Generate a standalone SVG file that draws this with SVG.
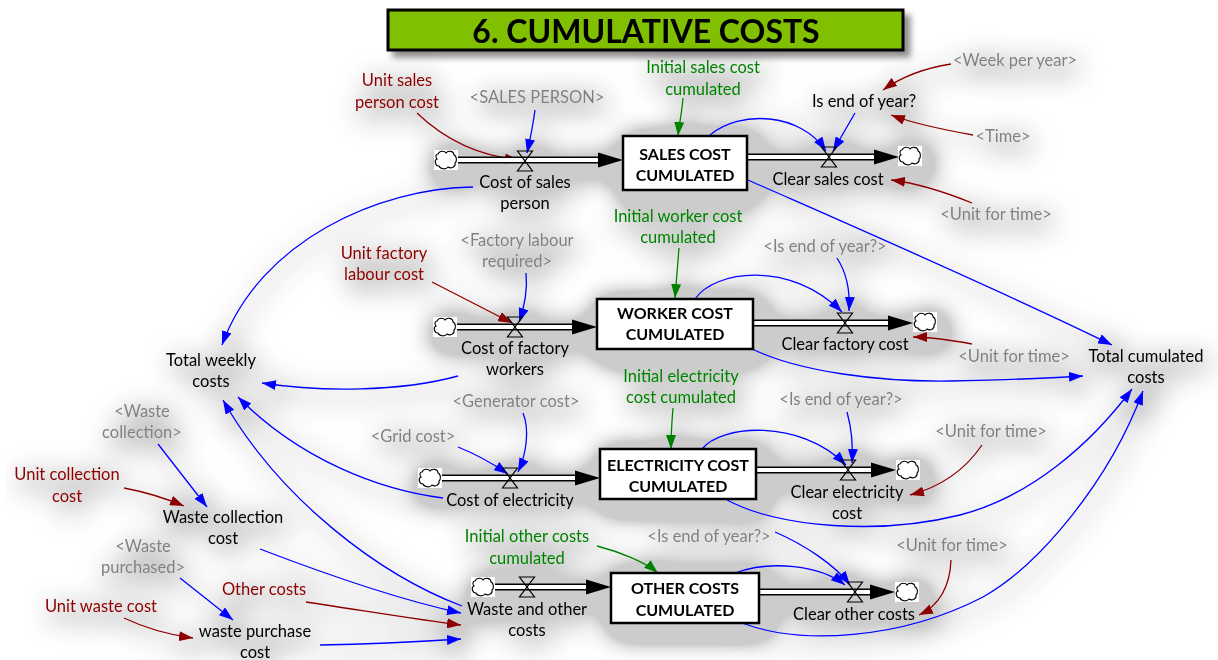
<svg xmlns="http://www.w3.org/2000/svg" xmlns:xlink="http://www.w3.org/1999/xlink" width="1218" height="660" viewBox="0 0 1218 660">
  <style>
    text { font-family: Lato, "Open Sans", "Liberation Sans", sans-serif; font-size: 16.5px; text-anchor: middle; }
    .k { fill: #000; }
    .gy { fill: #808080; }
    .dr { fill: #8B0000; }
    .gn { fill: #008000; }
    .stk { font-weight: bold; font-size: 16px; fill: #000; }
    .box { fill: #fff; stroke: #000; stroke-width: 2.5; }
    .pipeO { stroke: #000; stroke-width: 7; fill: none; }
    .pipeI { stroke: #fff; stroke-width: 4; fill: none; }
    .cb { stroke: #0000FF; stroke-width: 1.3; fill: none; marker-end: url(#ab); }
    .cr { stroke: #8B0000; stroke-width: 1.3; fill: none; marker-end: url(#ar); }
    .cg { stroke: #008000; stroke-width: 1.3; fill: none; marker-end: url(#ag); }
  </style>
  <defs>
    <marker id="ab" viewBox="0 0 14 10" refX="14" refY="5" markerWidth="14" markerHeight="10" markerUnits="userSpaceOnUse" orient="auto">
      <path d="M0,0 L14,5 L0,10 Z" fill="#0000FF"/>
    </marker>
    <marker id="ar" viewBox="0 0 14 10" refX="14" refY="5" markerWidth="14" markerHeight="10" markerUnits="userSpaceOnUse" orient="auto">
      <path d="M0,0 L14,5 L0,10 Z" fill="#8B0000"/>
    </marker>
    <marker id="ag" viewBox="0 0 14 10" refX="14" refY="5" markerWidth="14" markerHeight="10" markerUnits="userSpaceOnUse" orient="auto">
      <path d="M0,0 L14,5 L0,10 Z" fill="#008000"/>
    </marker>
    <g id="cloud">
      <rect x="-12" y="-10" width="24" height="20" fill="#fff"/>
      <path d="M-8,-6 C-6,-10 -1,-9 0,-7 C2,-10 8,-9 8,-5 C11,-4 11,2 9,3 C10,7 5,9 2,7 C0,10 -6,9 -7,6 C-11,6 -12,0 -9,-1 C-11,-3 -10,-6 -8,-6 Z" fill="#fff" stroke="#000" stroke-width="1.1"/>
    </g>
    <path id="valve" d="M-7.5,-10 L7.5,-10 L-7.5,10 L7.5,10 Z" fill="none" stroke="#000" stroke-width="1.2"/>
    <!-- soft grey drop haze behind the whole model -->
    <filter id="haze" filterUnits="userSpaceOnUse" x="0" y="0" width="1218" height="660">
      <feGaussianBlur in="SourceAlpha" stdDeviation="14" result="b"/>
      <feOffset in="b" dx="5" dy="7" result="o"/>
      <feComponentTransfer in="o" result="a">
        <feFuncA type="linear" slope="6"/>
      </feComponentTransfer>
      <feFlood flood-color="#000" flood-opacity="0.2"/>
      <feComposite in2="a" operator="in" result="s"/>
      <feMerge><feMergeNode in="s"/><feMergeNode in="SourceGraphic"/></feMerge>
    </filter>
    <filter id="titleShadow" x="-5%" y="-20%" width="115%" height="160%">
      <feGaussianBlur in="SourceAlpha" stdDeviation="3" result="b"/>
      <feOffset in="b" dx="6" dy="6" result="o"/>
      <feFlood flood-color="#000" flood-opacity="0.45"/>
      <feComposite in2="o" operator="in" result="s"/>
      <feMerge><feMergeNode in="s"/><feMergeNode in="SourceGraphic"/></feMerge>
    </filter>
  </defs>

  <rect width="1218" height="660" fill="#fff"/>

  <!-- heading -->
  <g id="title" filter="url(#titleShadow)">
    <rect x="388" y="10" width="515" height="40" fill="#80C000" stroke="#000" stroke-width="3"/>
    <text x="646" y="43" style="font-size:32px;font-weight:bold" class="k">6. CUMULATIVE COSTS</text>
  </g>

  <g id="diagram" filter="url(#haze)">
    <!-- information links -->
    <g id="connectors">
      <!-- sales row -->
      <path class="cr" d="M417,113 C445,140 480,156 519,160"/>
      <path class="cb" d="M535,110 C533,125 530,140 527,153"/>
      <path class="cg" d="M683,98 C682,112 679,125 678,136"/>
      <path class="cb" d="M710,135 C740,110 800,112 826,151"/>
      <path class="cb" d="M855,113 L833,151"/>
      <path class="cr" d="M951,64 C925,68 900,78 883,90"/>
      <path class="cr" d="M973,135 C945,130 915,124 891,115"/>
      <path class="cr" d="M972,203 C945,192 915,183 891,180"/>
      <path class="cb" d="M748,180 C850,225 1000,290 1112,345"/>
      <path class="cb" d="M473,187 C380,188 260,240 222,345"/>
      <!-- worker row -->
      <path class="cr" d="M432,282 L512,323"/>
      <path class="cb" d="M526,273 C528,293 524,308 519,322"/>
      <path class="cg" d="M679,248 L675,298"/>
      <path class="cb" d="M695,299 C715,270 790,260 842,312"/>
      <path class="cb" d="M837,258 C848,275 850,295 849,311"/>
      <path class="cr" d="M972,344 C950,340 930,337 913,337"/>
      <path class="cb" d="M752,349 C800,372 880,382 950,381 C1000,380 1050,378 1083,376"/>
      <path class="cb" d="M458,376 C400,392 320,392 262,383"/>
      <!-- electricity row -->
      <path class="cb" d="M523,413 C530,430 526,455 518,472"/>
      <path class="cb" d="M458,447 C478,455 495,465 508,474"/>
      <path class="cg" d="M673,408 C672,420 671,435 671,449"/>
      <path class="cb" d="M702,449 C720,425 800,418 846,465"/>
      <path class="cb" d="M847,412 C852,430 853,448 852,463"/>
      <path class="cr" d="M982,445 C965,470 940,487 910,495"/>
      <path class="cb" d="M727,500 C780,528 880,535 960,515 C1030,497 1090,445 1132,389"/>
      <path class="cb" d="M443,498 C380,490 300,460 238,397"/>
      <!-- other costs row -->
      <path class="cg" d="M597,546 C620,552 645,562 658,573"/>
      <path class="cb" d="M775,532 C805,545 835,565 850,585"/>
      <path class="cb" d="M735,573 C770,560 820,565 845,585"/>
      <path class="cr" d="M951,560 C950,585 940,605 919,615"/>
      <path class="cb" d="M742,623 C800,645 900,640 983,597 C1040,565 1110,480 1143,391"/>
      <path class="cb" d="M462,606 C380,575 280,500 223,400"/>
      <!-- waste inputs -->
      <path class="cb" d="M158,444 L207,507"/>
      <path class="cr" d="M124,488 C145,492 165,498 184,506"/>
      <path class="cb" d="M180,578 L233,620"/>
      <path class="cr" d="M124,618 C145,628 170,635 193,638"/>
      <path class="cb" d="M260,549 C320,572 400,600 461,613"/>
      <path class="cr" d="M306,602 C360,610 420,620 461,625"/>
      <path class="cb" d="M320,645 C380,644 430,641 461,639"/>
    </g>

    <!-- flow pipes -->
    <g id="flow-cost-of-sales-person">
      <path class="pipeO" d="M456,160 H600"/>
      <path class="pipeI" d="M456,160 H601"/>
      <polygon points="598,152.5 623,160 598,167.5" fill="#000"/>
      <use xlink:href="#cloud" x="446" y="160"/>
      <use xlink:href="#valve" x="525" y="161"/>
      <text class="k" x="525" y="188">Cost of sales<tspan x="525" dy="21">person</tspan></text>
    </g>
    <g id="flow-clear-sales-cost">
      <path class="pipeO" d="M747,157 H876"/>
      <path class="pipeI" d="M747,157 H877"/>
      <polygon points="874,149.5 899,157 874,164.5" fill="#000"/>
      <use xlink:href="#cloud" x="910" y="156"/>
      <use xlink:href="#valve" x="829" y="157"/>
      <text class="k" x="828" y="185">Clear sales cost</text>
    </g>
    <g id="flow-cost-of-factory-workers">
      <path class="pipeO" d="M456,327 H574"/>
      <path class="pipeI" d="M456,327 H575"/>
      <polygon points="572,319.5 597,327 572,334.5" fill="#000"/>
      <use xlink:href="#cloud" x="445" y="327"/>
      <use xlink:href="#valve" x="515" y="327"/>
      <text class="k" x="515" y="354">Cost of factory<tspan x="515" dy="21">workers</tspan></text>
    </g>
    <g id="flow-clear-factory-cost">
      <path class="pipeO" d="M753,323 H890"/>
      <path class="pipeI" d="M753,323 H891"/>
      <polygon points="888,315.5 913,323 888,330.5" fill="#000"/>
      <use xlink:href="#cloud" x="925" y="322"/>
      <use xlink:href="#valve" x="845" y="323"/>
      <text class="k" x="845" y="350">Clear factory cost</text>
    </g>
    <g id="flow-cost-of-electricity">
      <path class="pipeO" d="M442,478 H577"/>
      <path class="pipeI" d="M442,478 H578"/>
      <polygon points="575,470.5 600,478 575,485.5" fill="#000"/>
      <use xlink:href="#cloud" x="430" y="478"/>
      <use xlink:href="#valve" x="510" y="478"/>
      <text class="k" x="510" y="506">Cost of electricity</text>
    </g>
    <g id="flow-clear-electricity-cost">
      <path class="pipeO" d="M756,470 H873"/>
      <path class="pipeI" d="M756,470 H874"/>
      <polygon points="871,462.5 896,470 871,477.5" fill="#000"/>
      <use xlink:href="#cloud" x="908" y="470"/>
      <use xlink:href="#valve" x="848" y="470"/>
      <text class="k" x="847" y="498">Clear electricity<tspan x="847" dy="21">cost</tspan></text>
    </g>
    <g id="flow-waste-and-other-costs">
      <path class="pipeO" d="M494,587 H588"/>
      <path class="pipeI" d="M494,587 H589"/>
      <polygon points="586,579.5 611,587 586,594.5" fill="#000"/>
      <use xlink:href="#cloud" x="483" y="587"/>
      <use xlink:href="#valve" x="527" y="587"/>
      <text class="k" x="527" y="615">Waste and other<tspan x="527" dy="21">costs</tspan></text>
    </g>
    <g id="flow-clear-other-costs">
      <path class="pipeO" d="M759,592 H872"/>
      <path class="pipeI" d="M759,592 H873"/>
      <polygon points="870,584.5 895,592 870,599.5" fill="#000"/>
      <use xlink:href="#cloud" x="907" y="592"/>
      <use xlink:href="#valve" x="855" y="592"/>
      <text class="k" x="854" y="620">Clear other costs</text>
    </g>

    <!-- stocks -->
    <g id="stock-sales">
      <rect class="box" x="623" y="136" width="124" height="54"/>
      <text class="stk" x="685" y="160">SALES COST<tspan x="685" dy="21">CUMULATED</tspan></text>
    </g>
    <g id="stock-worker">
      <rect class="box" x="597" y="299" width="156" height="50"/>
      <text class="stk" x="675" y="319">WORKER COST<tspan x="675" dy="21">CUMULATED</tspan></text>
    </g>
    <g id="stock-electricity">
      <rect class="box" x="600" y="449" width="156" height="50"/>
      <text class="stk" x="678" y="471">ELECTRICITY COST<tspan x="678" dy="21">CUMULATED</tspan></text>
    </g>
    <g id="stock-other">
      <rect class="box" x="611" y="573" width="148" height="50"/>
      <text class="stk" x="685" y="594">OTHER COSTS<tspan x="685" dy="22">CUMULATED</tspan></text>
    </g>

    <!-- auxiliaries and constants -->
    <g id="unit-sales-person-cost"><text class="dr" x="397" y="86">Unit sales<tspan x="397" dy="22">person cost</tspan></text></g>
    <g id="sales-person"><text class="gy" x="537" y="103">&lt;SALES PERSON&gt;</text></g>
    <g id="initial-sales-cost"><text class="gn" x="703" y="73">Initial sales cost<tspan x="703" dy="22">cumulated</tspan></text></g>
    <g id="is-end-of-year"><text class="k" x="864" y="107">Is end of year?</text></g>
    <g id="week-per-year"><text class="gy" x="1015" y="66">&lt;Week per year&gt;</text></g>
    <g id="time"><text class="gy" x="1003" y="142">&lt;Time&gt;</text></g>
    <g id="unit-for-time-1"><text class="gy" x="996" y="220">&lt;Unit for time&gt;</text></g>

    <g id="unit-factory-labour-cost"><text class="dr" x="384" y="259">Unit factory<tspan x="384" dy="21">labour cost</tspan></text></g>
    <g id="factory-labour-required"><text class="gy" x="517" y="246">&lt;Factory labour<tspan x="517" dy="21">required&gt;</tspan></text></g>
    <g id="initial-worker-cost"><text class="gn" x="678" y="222">Initial worker cost<tspan x="678" dy="21">cumulated</tspan></text></g>
    <g id="is-end-of-year-2"><text class="gy" x="825" y="252">&lt;Is end of year?&gt;</text></g>
    <g id="unit-for-time-2"><text class="gy" x="1014" y="362">&lt;Unit for time&gt;</text></g>

    <g id="total-weekly-costs"><text class="k" x="211" y="366">Total weekly<tspan x="211" dy="21">costs</tspan></text></g>
    <g id="total-cumulated-costs"><text class="k" x="1146" y="362">Total cumulated<tspan x="1146" dy="21">costs</tspan></text></g>

    <g id="initial-electricity-cost"><text class="gn" x="681" y="382">Initial electricity<tspan x="681" dy="21">cost cumulated</tspan></text></g>
    <g id="generator-cost"><text class="gy" x="516" y="407">&lt;Generator cost&gt;</text></g>
    <g id="grid-cost"><text class="gy" x="413" y="442">&lt;Grid cost&gt;</text></g>
    <g id="is-end-of-year-3"><text class="gy" x="841" y="405">&lt;Is end of year?&gt;</text></g>
    <g id="unit-for-time-3"><text class="gy" x="991" y="437">&lt;Unit for time&gt;</text></g>

    <g id="initial-other-costs"><text class="gn" x="527" y="542">Initial other costs<tspan x="527" dy="22">cumulated</tspan></text></g>
    <g id="is-end-of-year-4"><text class="gy" x="709" y="542">&lt;Is end of year?&gt;</text></g>
    <g id="unit-for-time-4"><text class="gy" x="952" y="551">&lt;Unit for time&gt;</text></g>

    <g id="waste-collection"><text class="gy" x="142" y="417">&lt;Waste<tspan x="142" dy="21">collection&gt;</tspan></text></g>
    <g id="unit-collection-cost"><text class="dr" x="67" y="480">Unit collection<tspan x="67" dy="22">cost</tspan></text></g>
    <g id="waste-collection-cost"><text class="k" x="223" y="523">Waste collection<tspan x="223" dy="21">cost</tspan></text></g>
    <g id="waste-purchased"><text class="gy" x="143" y="552">&lt;Waste<tspan x="143" dy="21">purchased&gt;</tspan></text></g>
    <g id="unit-waste-cost"><text class="dr" x="101" y="612">Unit waste cost</text></g>
    <g id="other-costs"><text class="dr" x="264" y="595">Other costs</text></g>
    <g id="waste-purchase-cost"><text class="k" x="255" y="637">waste purchase<tspan x="255" dy="21">cost</tspan></text></g>
  </g>
</svg>
